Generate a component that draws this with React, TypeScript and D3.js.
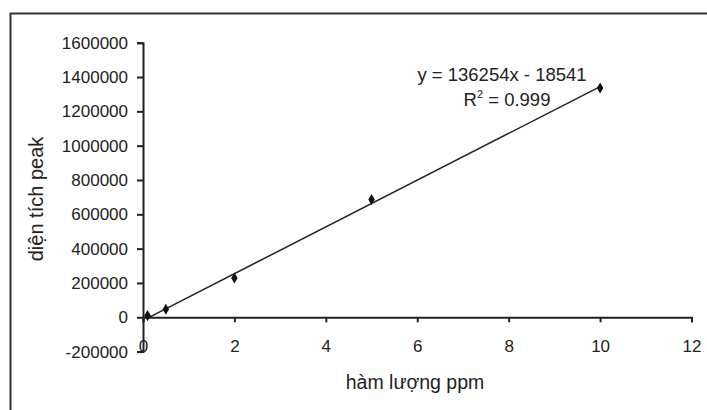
import { useEffect, useRef } from 'react';
import * as d3 from 'd3';

const concentrations = [0.1, 0.5, 2, 5, 10];
const peakAreas = [10000, 47000, 229000, 686000, 1336000];
const xTicks = [0, 2, 4, 6, 8, 10, 12];
const yTicks = [-200000, 0, 200000, 400000, 600000, 800000, 1000000, 1200000, 1400000, 1600000];
const slope = 136254;
const intercept = -18541;
const equationLabel = 'y = 136254x - 18541';
const r2Label = '0.999';
const xTitle = 'hàm lượng ppm';
const yTitle = 'diện tích peak';

const size = { width: 707, height: 410 };
const FONT = 'Liberation Sans, Arial, sans-serif';

const App = () => {
  const d3Container = useRef<SVGSVGElement>(null);

  useEffect(() => {
    if (!d3Container.current) return;
    const svg = d3.select(d3Container.current);
    svg.selectAll('*').remove();
    svg.attr('width', size.width).attr('height', size.height);

    // frame (only top and left edges show in the crop)
    svg
      .append('path')
      .attr('d', `M10.5,${size.height} V13.5 H${size.width}`)
      .attr('fill', 'none')
      .attr('stroke', '#333')
      .attr('stroke-width', 2);

    const x = d3.scaleLinear().domain([0, 12]).range([143, 691.5]);
    const y = d3.scaleLinear().domain([-200000, 1600000]).range([351.6, 42.7]);

    const yAxis = svg
      .append('g')
      .attr('transform', `translate(${x(0)}, 0)`)
      .call(
        d3
          .axisLeft(y)
          .tickValues(yTicks)
          .tickSize(6)
          .tickPadding(9)
          .tickFormat((d) => String(d))
      );
    yAxis.selectAll('path, line').attr('stroke', '#222').attr('stroke-width', 2);
    yAxis
      .selectAll('text')
      .attr('fill', '#222')
      .style('font-family', FONT)
      .style('font-size', '17px');

    const xAxis = svg
      .append('g')
      .attr('transform', `translate(0, ${y(0)})`)
      .call(d3.axisBottom(x).tickValues(xTicks).tickSize(5).tickSizeOuter(5).tickPadding(18));
    xAxis.selectAll('path, line').attr('stroke', '#222').attr('stroke-width', 2);
    xAxis
      .selectAll('text')
      .attr('fill', '#222')
      .style('font-family', FONT)
      .style('font-size', '17px');

    // linear trendline
    const xMin = d3.min(concentrations) ?? 0;
    const xMax = d3.max(concentrations) ?? 10;
    svg
      .append('path')
      .datum([xMin, xMax])
      .attr('fill', 'none')
      .attr('stroke', '#222')
      .attr('stroke-width', 1.5)
      .attr(
        'd',
        d3
          .line<number>()
          .x((d) => x(d))
          .y((d) => y(slope * d + intercept))
      );

    svg
      .selectAll('.pt')
      .data(concentrations)
      .enter()
      .append('path')
      .attr('class', 'pt')
      .attr('transform', (d, i) => `translate(${x(d)}, ${y(peakAreas[i])})`)
      .attr('d', d3.symbol(d3.symbolDiamond, 36)())
      .attr('fill', '#111');

    svg
      .append('text')
      .attr('x', 502)
      .attr('y', 81)
      .attr('text-anchor', 'middle')
      .attr('fill', '#222')
      .style('font-family', FONT)
      .style('font-size', '18.5px')
      .text(equationLabel);

    const r2 = svg
      .append('text')
      .attr('x', 507)
      .attr('y', 106)
      .attr('text-anchor', 'middle')
      .attr('fill', '#222')
      .style('font-family', FONT)
      .style('font-size', '18.5px');
    r2.append('tspan').text('R');
    r2.append('tspan').attr('dy', -8).style('font-size', '11px').text('2');
    r2.append('tspan').attr('dy', 8).text(` = ${r2Label}`);

    svg
      .append('text')
      .attr('x', 415)
      .attr('y', 389)
      .attr('text-anchor', 'middle')
      .attr('fill', '#222')
      .style('font-family', FONT)
      .style('font-size', '19.5px')
      .text(xTitle);

    svg
      .append('text')
      .attr('transform', 'translate(43, 199) rotate(-90)')
      .attr('text-anchor', 'middle')
      .attr('fill', '#222')
      .style('font-family', FONT)
      .style('font-size', '20px')
      .text(yTitle);
  }, []);

  return (
    <div>
      <svg ref={d3Container} style={{ display: 'block', position: 'absolute', left: 0, top: 0 }} />
    </div>
  );
};

export default App;
